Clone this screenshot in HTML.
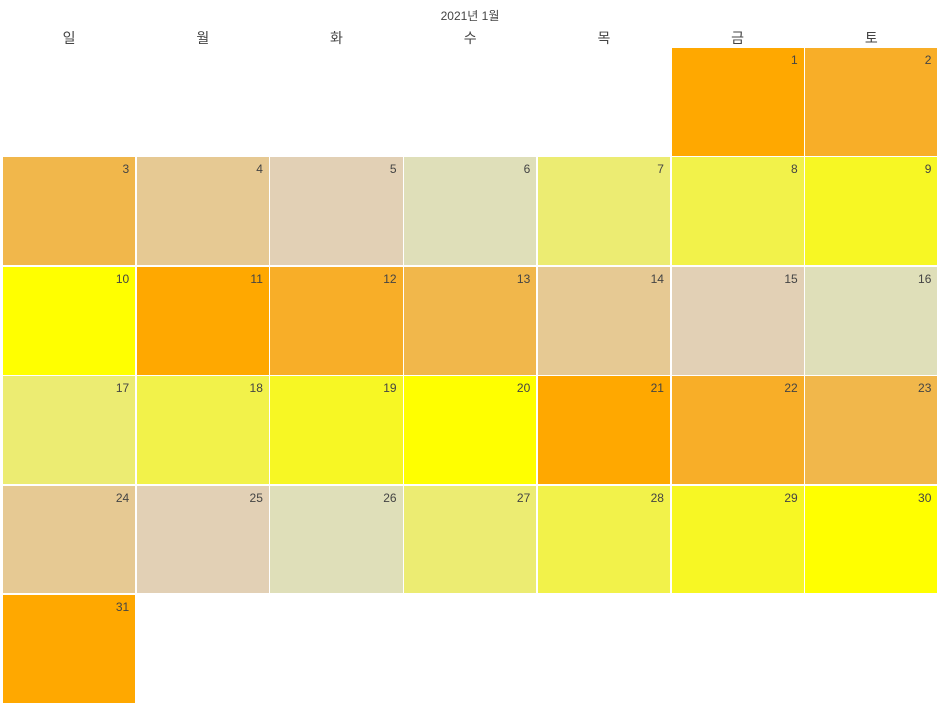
<!DOCTYPE html>
<html><head><meta charset="utf-8">
<style>
body{margin:0;background:#fff;width:949px;height:706px;overflow:hidden;font-family:"Liberation Sans","Noto Sans CJK KR",sans-serif}
#title{position:absolute;left:0;width:940px;top:7px;text-align:center;font-size:12px;color:#444}
.dow{position:absolute;top:28px;font-size:14px;color:#444;text-align:center}
.cell{position:absolute}
.num{position:absolute;right:6px;top:5px;font-size:12px;color:#444}
</style></head><body>
<div id="title">2021년 1월</div>
<div id="cal"></div>
<script>
const weekdays=["일","월","화","수","목","금","토"];
const days=[1,2,3,4,5,6,7,8,9,10,11,12,13,14,15,16,17,18,19,20,21,22,23,24,25,26,27,28,29,30,31];
const values=[1,2,3,4,5,6,7,8,9,10,1,2,3,4,5,6,7,8,9,10,1,2,3,4,5,6,7,8,9,10,1];
const firstWeekday=5;
const palette=["#FFA800","#F8AE28","#F1B74B","#E6C993","#E2D0B5","#DFDFB9","#ECEC72","#F2F24A","#F7F724","#FFFF00"];
const x0=3,y0=48,cw=132.2,ch=107.9,gap=1.5;
const colX=c=>x0+c*(cw+gap);
const rowY=r=>y0+r*(ch+gap);
const color=v=>palette[Math.max(0,Math.min(palette.length-1,v-1))];
const cal=document.getElementById('cal');
weekdays.forEach((w,i)=>{
  const d=document.createElement('div');d.className='dow';
  
  
  d.style.left=colX(i)+'px';d.style.width=cw+'px';d.textContent=w;cal.appendChild(d);
});
days.forEach((day,i)=>{
  const idx=firstWeekday+i,c=idx%7,r=Math.floor(idx/7);
  const d=document.createElement('div');d.className='cell';
  
  
  d.style.left=colX(c)+'px';d.style.top=rowY(r)+'px';
  d.style.width=cw+'px';d.style.height=ch+'px';
  d.style.background=color(values[i]);
  const n=document.createElement('span');n.className='num';
  
  
  n.textContent=day;d.appendChild(n);cal.appendChild(d);
});
</script>
</body></html>
